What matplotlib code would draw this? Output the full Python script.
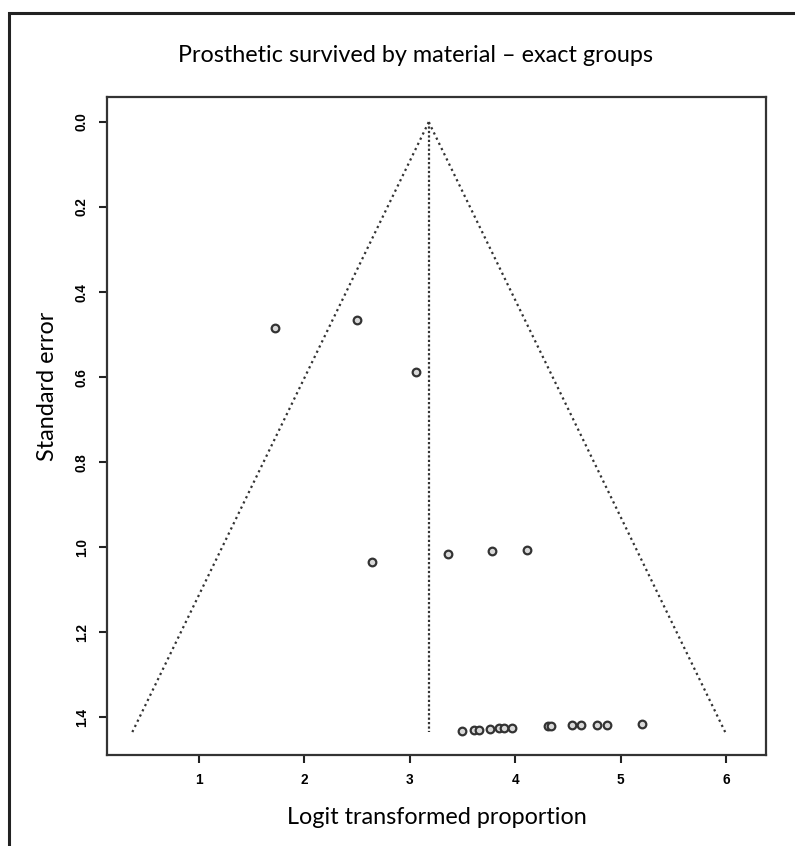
import numpy as np
import matplotlib
matplotlib.use('Agg')
import matplotlib.pyplot as plt
from matplotlib.patches import Rectangle

# study estimates (logit transformed proportion) and their standard errors
logit_prop = [1.72, 2.50, 3.06, 2.64, 3.36, 3.78, 4.11,
              3.50, 3.61, 3.66, 3.76, 3.85, 3.89, 3.97,
              4.31, 4.34, 4.54, 4.62, 4.78, 4.87, 5.20]
std_err = [0.485, 0.465, 0.589, 1.035, 1.016, 1.009, 1.007,
           1.433, 1.431, 1.430, 1.428, 1.426, 1.426, 1.426,
           1.421, 1.421, 1.419, 1.419, 1.419, 1.419, 1.416]
pooled = 3.18
se_max = 1.435

x_ticks = [1, 2, 3, 4, 5, 6]
y_ticks = [0.0, 0.2, 0.4, 0.6, 0.8, 1.0, 1.2, 1.4]

fig = plt.figure(figsize=(7.95, 8.46), dpi=100)

# outer frame (cropped on right and bottom)
fig.patches.append(Rectangle((9/795, -0.1), 1.2, 1.1 - 13/846, transform=fig.transFigure,
                             fill=False, edgecolor='#222222', linewidth=2.2))

ax = fig.add_axes([107/795, 91/846, (766-107)/795, (755-97)/846])

# funnel
se_line = np.array([0, se_max])
ax.plot(pooled - 1.96*se_line, se_line, ls=(0, (1, 1.6)), color='#333333', lw=1.6)
ax.plot(pooled + 1.96*se_line, se_line, ls=(0, (1, 1.6)), color='#333333', lw=1.6)
ax.plot([pooled, pooled], se_line, ls=(0, (1, 1.0)), color='#333333', lw=1.6)

ax.plot(logit_prop, std_err, 'o', ms=5.5, mfc='#d9d9d9', mec='#333333', mew=1.6, ls='none')

ax.set_xlim(0.127, 6.38)
ax.set_ylim(1.489, -0.059)
ax.set_xticks(x_ticks)
ax.set_xticklabels([str(t) for t in x_ticks])
ax.set_yticks(y_ticks)
ax.set_yticklabels(['%.1f' % t for t in y_ticks], rotation=90, va='center')

for lab in ax.get_xticklabels() + ax.get_yticklabels():
    lab.set_fontfamily('Liberation Sans')
    lab.set_fontweight('bold')
    lab.set_fontsize(9.8)
ax.tick_params(direction='out', length=6, width=1.5, color='#222222', pad=7)

for sp in ax.spines.values():
    sp.set_linewidth(1.6)
    sp.set_color('#333333')

fig.text(416/795, 1 - 55/846, 'Prosthetic survived by material \u2013 exact groups',
         ha='center', va='center', fontsize=16.8, family='Lato')
ax.set_xlabel('Logit transformed proportion', fontsize=16.8, family='Lato')
ax.xaxis.set_label_coords(0.5, -(817 - 755)/658, transform=ax.transAxes)
ax.xaxis.label.set_va('center')
ax.set_ylabel('Standard error', fontsize=16.8, family='Lato')
ax.yaxis.set_label_coords((48 - 107)/659, (755 - 386)/658, transform=ax.transAxes)
ax.yaxis.label.set_va('center')

fig.savefig('out.png', dpi=100)
